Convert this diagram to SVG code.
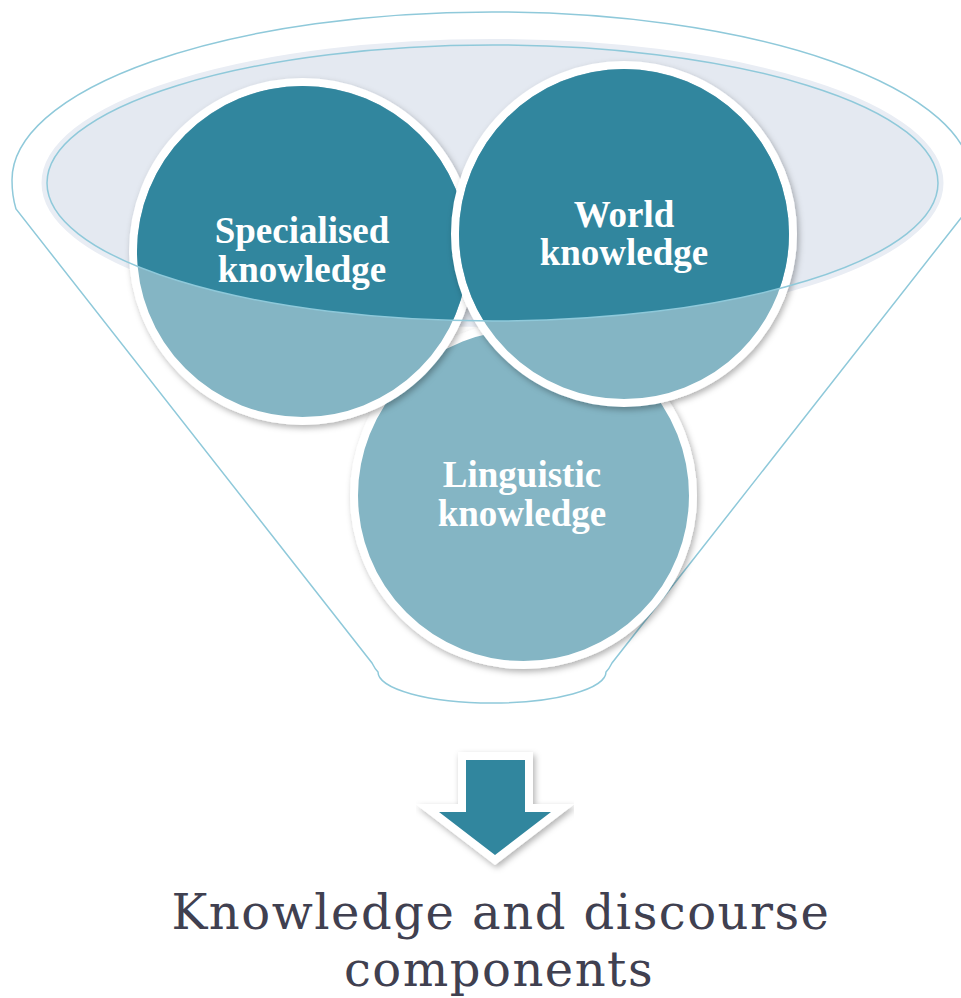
<svg xmlns="http://www.w3.org/2000/svg" width="961" height="998" viewBox="0 0 961 998">
<defs>
<style>
.lbl{font-family:"Liberation Serif","Times New Roman",serif;font-weight:bold;font-size:37px;fill:#ffffff;text-anchor:middle}
.ttl{font-family:"DejaVu Serif","Liberation Serif",serif;font-size:48px;letter-spacing:1.5px;fill:#404050;text-anchor:middle}
.ring{stroke:#ffffff;stroke-width:8}
.light{fill:#84b5c4}
.dark{fill:#31869e}
.edge{fill:none;stroke:#8fc9da;stroke-width:1.5}
</style>
<filter id="sh" x="-20%" y="-20%" width="140%" height="140%">
<feDropShadow dx="2" dy="3" stdDeviation="3" flood-color="#000000" flood-opacity="0.3"/>
</filter>
<clipPath id="topclip"><ellipse cx="492.5" cy="183" rx="445.5" ry="138"/></clipPath>
</defs>
<rect width="961" height="998" fill="#ffffff"/>
<g id="funnel">
<path d="M16,209 Q12,196 12,180 A480,168 0 0 1 972,180 Q972,196 968,209 L612,663 Q609,669 606,672 A114,31 0 0 1 378,672 Q375,669 372,663 Z" class="edge" style="fill:#ffffff"/>
<ellipse cx="492.5" cy="183" rx="447" ry="140" fill="none" stroke="#e9edf4" stroke-width="8"/>
<ellipse cx="492.5" cy="183" rx="445.5" ry="138" fill="#e4e9f1"/>
</g>
<g id="linguistic">
<circle cx="523.5" cy="495.5" r="169.5" class="light ring" filter="url(#sh)"/>
<text class="lbl" x="522" y="487">Linguistic</text>
<text class="lbl" x="522" y="526">knowledge</text>
</g>
<g id="specialised">
<circle cx="302.5" cy="251.5" r="169.5" class="light ring" filter="url(#sh)"/>
<circle cx="302.5" cy="251.5" r="165.5" class="dark" clip-path="url(#topclip)"/>
<text class="lbl" x="302" y="243">Specialised</text>
<text class="lbl" x="302" y="282">knowledge</text>
</g>
<g id="world">
<circle cx="624" cy="234" r="169" class="light ring" filter="url(#sh)"/>
<circle cx="624" cy="234" r="165" class="dark" clip-path="url(#topclip)"/>
<text class="lbl" x="624" y="227">World</text>
<text class="lbl" x="624" y="265">knowledge</text>
</g>
<g id="funnel-rim">
<ellipse cx="492.5" cy="183" rx="445.5" ry="138" class="edge"/>
</g>
<g id="connectors">
<polygon points="466,760 525,760 525,812 551,812 495,855 439,812 466,812" fill="#ffffff" stroke="#ffffff" stroke-width="16" stroke-linejoin="miter" filter="url(#sh)"/>
<polygon points="466,760 525,760 525,812 551,812 495,855 439,812 466,812" fill="#31869e"/>
</g>
<g id="result">
<text class="ttl" x="501" y="929">Knowledge and discourse</text>
<text class="ttl" x="499" y="986">components</text>
</g>
</svg>
